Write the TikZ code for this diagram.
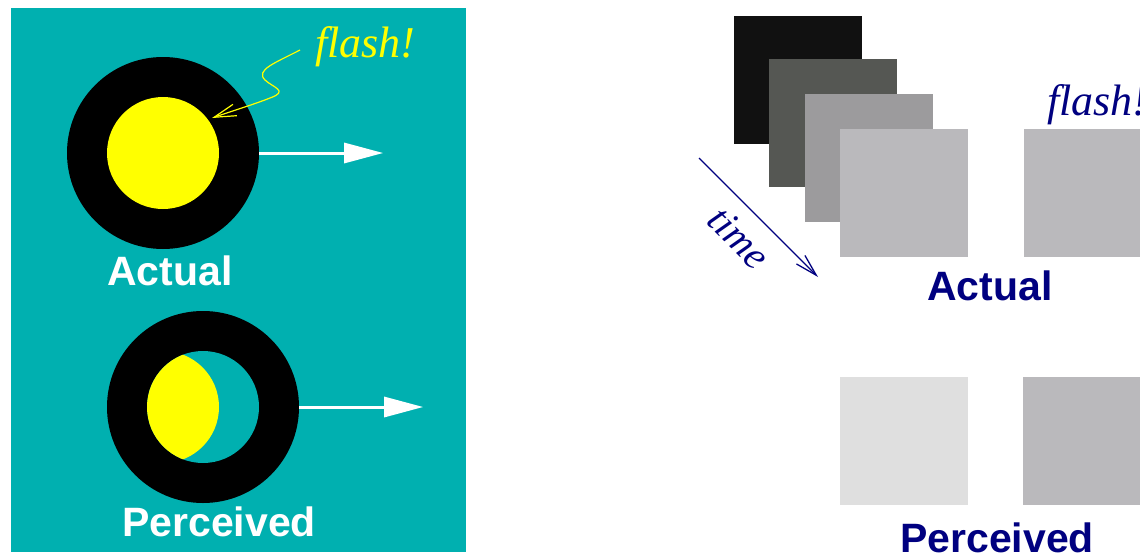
\documentclass[tikz,border=0pt]{standalone}
\usepackage{fontspec}
\setmainfont{Liberation Serif}
\setsansfont{Liberation Sans}
\usetikzlibrary{arrows.meta}
\definecolor{tealbg}{HTML}{00B0B0}
\definecolor{navy}{HTML}{000080}
\definecolor{flashyellow}{HTML}{FFFF00}
\definecolor{sqA}{HTML}{111111}
\definecolor{sqB}{HTML}{555753}
\definecolor{sqC}{HTML}{9C9B9D}
\definecolor{sqD}{HTML}{BAB9BC}
\definecolor{sqE}{HTML}{DFDFDF}
\tikzset{
  ring/.style={circle, fill=black, minimum size=192pt, inner sep=0pt},
  hole/.style={circle, minimum size=112pt, inner sep=0pt},
  whitearrow/.style={draw=white, line width=3pt, -{Triangle[length=39pt,width=20pt]}, fill=white},
  thinbarb/.style={line width=1.3pt, -{Straight Barb[length=22pt,width=12pt]}},
  sqbox/.style={minimum size=128pt, inner sep=0pt, anchor=north west},
  boldlab/.style={font=\sffamily\bfseries\fontsize{41}{48}\selectfont, anchor=base, inner sep=0pt},
  navylab/.style={font=\sffamily\bfseries\fontsize{41}{48}\selectfont, anchor=base, inner sep=0pt, text=navy},
  itlab/.style={font=\itshape\fontsize{44}{50}\selectfont, inner sep=0pt}
}
\begin{document}
\begin{tikzpicture}[x=1pt,y=-1pt]
\clip (0,0) rectangle (1140,557);
\fill[white] (0,0) rectangle (1140,557);
% left panel
\fill[tealbg] (11,8) rectangle (466,552);
% top ring
\node[ring] (ring1) at (163,153) {};
\node[hole, fill=flashyellow] (flashdisc) at (163,153) {};
\draw[whitearrow] (ring1.east) -- ++(124,0) coordinate (tip1);
% bottom ring
\node[ring] (ring2) at (203,407) {};
\node[hole, fill=tealbg] (hole2) at (203,407) {};
\begin{scope}
  \clip (203,407) circle (56);
  \fill[flashyellow] (163,407) circle (56);
\end{scope}
\draw[whitearrow] (ring2.east) -- ++(124,0) coordinate (tip2);
% labels left
\node[boldlab, text=white] (actualL) at (170,285) {Actual};
\node[boldlab, text=white] (perceivedL) at (219,536) {Perceived};
\node[itlab, text=flashyellow, anchor=base west] (flashL) at (315,57) {flash!};
\coordinate (sqstart) at (300,50);
\coordinate (sqtip) at (212,118);
\draw[flashyellow, line width=1.2pt, -{Straight Barb[length=22pt,width=12pt]}]
  (sqstart) .. controls (275,63) and (255,70) .. (265,80)
  .. controls (272,87) and (290,91) .. (270,98)
  .. controls (255,104) and (235,110) .. (sqtip);
% right side squares
\node[sqbox, fill=sqA] (s1) at (734,16) {};
\node[sqbox, fill=sqB] (s2) at (769,59) {};
\node[sqbox, fill=sqC] (s3) at (805,94) {};
\node[sqbox, fill=sqD] (s4) at (840,129) {};
\node[sqbox, fill=sqD] (s5) at (1024,129) {};
\node[sqbox, fill=sqE] (s6) at (840,377) {};
\node[sqbox, fill=sqD] (s7) at (1023,377) {};
% time arrow
\coordinate (tstart) at (699,158);
\coordinate (tend) at (818,277);
\draw[navy, thinbarb] (tstart) -- (tend);
\node[itlab, text=navy, rotate=-45, font=\itshape\fontsize{40}{48}\selectfont] (timelab) at (739,238) {time};
\node[itlab, text=navy, anchor=base west] (flashR) at (1047,115) {flash!};
\node[navylab] (actualR) at (990,300) {Actual};
\node[navylab] (perceivedR) at (997,552) {Perceived};
\end{tikzpicture}
\end{document}
